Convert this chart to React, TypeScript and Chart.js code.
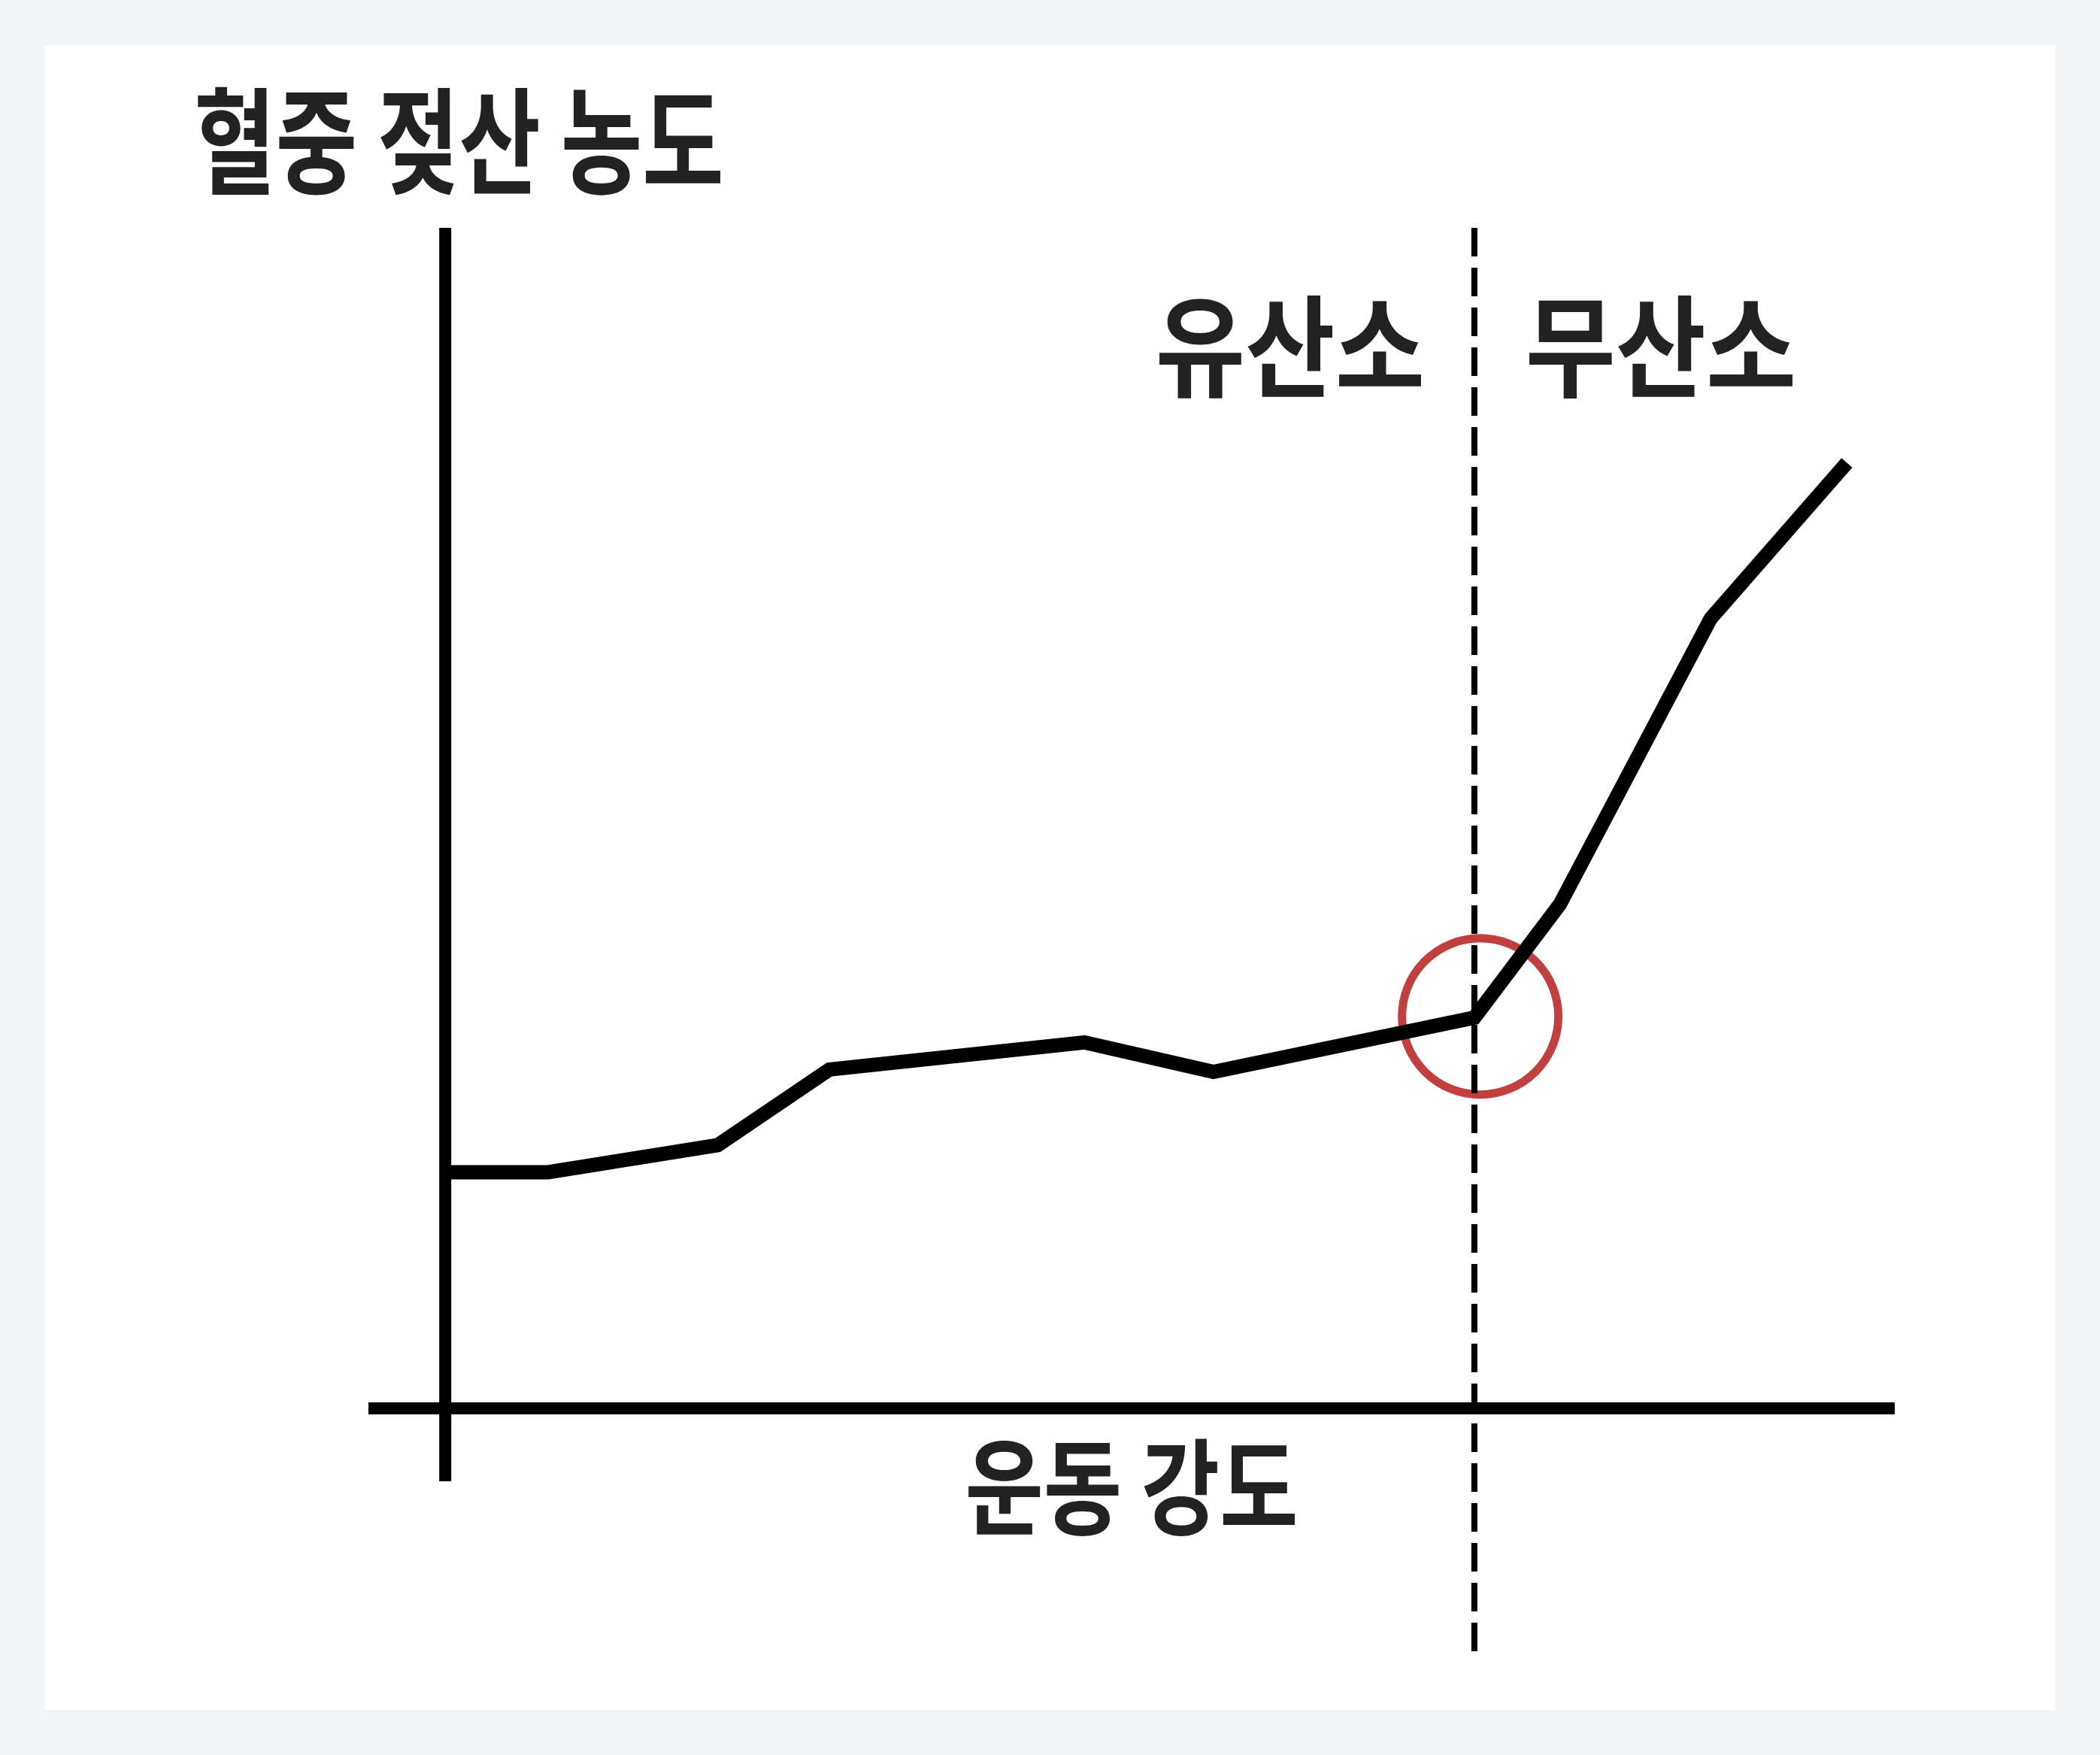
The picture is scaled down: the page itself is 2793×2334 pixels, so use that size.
import React, { useEffect, useRef } from "react";
import { Chart, registerables } from "chart.js";

Chart.register(...registerables);

// Exercise intensity (x) vs blood lactate concentration (y), arbitrary units
const intensity = [0, 7.1, 18.8, 26.5, 44.1, 53.0, 71, 76.9, 87.3, 96.7];
const lactate = [20, 20, 22.3, 28.7, 31.0, 28.5, 33.1, 42.7, 66.9, 80.1];

// Lactate threshold: where aerobic turns into anaerobic
const thresholdIntensity = 71;
const thresholdLactate = 33.2;
const thresholdMarkerX = 71.4;

const yAxisTitle = "혈중 젖산 농도";
const xAxisTitle = "운동 강도";
const zoneLabels = ["유산소", "무산소"];

const X_MIN = -5.3;
const X_MAX = 100;
const Y_MIN = -6.18;
const Y_MAX = 100;
const DASH_BOTTOM = -20.7;

const PANEL_W = 2673;
const PANEL_H = 2214;
const TEXT_COLOR = "#222222";
const FONT = 'bold 150px "Noto Sans CJK KR", "Noto Sans", sans-serif';

// Draw text stretched so that its ink fills the given box
function drawFitted(
  ctx: CanvasRenderingContext2D,
  text: string,
  x0: number,
  y0: number,
  w: number,
  h: number
) {
  ctx.save();
  ctx.font = FONT;
  ctx.textAlign = "left";
  ctx.textBaseline = "alphabetic";
  ctx.fillStyle = TEXT_COLOR;
  const m = ctx.measureText(text);
  const inkW = m.actualBoundingBoxLeft + m.actualBoundingBoxRight;
  const inkH = m.actualBoundingBoxAscent + m.actualBoundingBoxDescent;
  ctx.translate(x0, y0);
  ctx.scale(w / inkW, h / inkH);
  ctx.fillText(text, m.actualBoundingBoxLeft, m.actualBoundingBoxAscent);
  ctx.restore();
}

const axesPlugin = {
  id: "crossAxes",
  beforeDatasetsDraw(chart: any) {
    const { ctx, scales } = chart;
    const xs = scales.x;
    const ys = scales.y;
    ctx.save();
    ctx.strokeStyle = "#000000";
    ctx.lineWidth = 16;
    ctx.lineCap = "butt";
    // vertical axis
    ctx.beginPath();
    ctx.moveTo(xs.getPixelForValue(0), ys.getPixelForValue(Y_MAX));
    ctx.lineTo(xs.getPixelForValue(0), ys.getPixelForValue(Y_MIN));
    ctx.stroke();
    // horizontal axis
    ctx.beginPath();
    ctx.moveTo(xs.getPixelForValue(X_MIN), ys.getPixelForValue(0));
    ctx.lineTo(xs.getPixelForValue(X_MAX), ys.getPixelForValue(0));
    ctx.stroke();
    ctx.restore();
  },
  afterDraw(chart: any) {
    const { ctx, scales } = chart;
    const tx = scales.x.getPixelForValue(thresholdIntensity);
    drawFitted(ctx, yAxisTitle, 203, 55, 695, 145);
    drawFitted(ctx, zoneLabels[0], tx - 419, 333, 348, 137);
    drawFitted(ctx, zoneLabels[1], tx + 73, 333, 350, 137);
    drawFitted(ctx, xAxisTitle, 1228, 1853, 434, 130);
  },
};

export default function App() {
  const canvasRef = useRef<HTMLCanvasElement | null>(null);

  useEffect(() => {
    if (!canvasRef.current) return;
    const chart = new Chart(canvasRef.current, {
      type: "scatter",
      data: {
        datasets: [
          {
            label: "lactate",
            data: intensity.map((x, i) => ({ x, y: lactate[i] })),
            showLine: true,
            borderColor: "#000000",
            borderWidth: 19,
            borderJoinStyle: "miter",
            borderCapStyle: "butt",
            pointRadius: 0,
            tension: 0,
            clip: false,
          },
          {
            label: "threshold",
            data: [
              { x: thresholdIntensity, y: Y_MAX },
              { x: thresholdIntensity, y: DASH_BOTTOM },
            ],
            showLine: true,
            borderColor: "#000000",
            borderWidth: 8,
            borderDash: [38, 15],
            borderCapStyle: "butt",
            pointRadius: 0,
            clip: false,
          },
          {
            label: "marker",
            data: [{ x: thresholdMarkerX, y: thresholdLactate }],
            showLine: false,
            pointRadius: 104,
            pointBorderWidth: 11,
            pointBorderColor: "#c1403f",
            pointBackgroundColor: "rgba(0,0,0,0)",
            clip: false,
          },
        ],
      } as any,
      options: {
        animation: false,
        responsive: false,
        devicePixelRatio: 1,
        events: [],
        layout: {
          padding: { left: 430, right: PANEL_W - 2460, top: 243, bottom: PANEL_H - 1910 },
        },
        plugins: {
          legend: { display: false },
          tooltip: { enabled: false },
          title: { display: false },
        },
        scales: {
          x: { type: "linear", display: false, min: X_MIN, max: X_MAX },
          y: { type: "linear", display: false, min: Y_MIN, max: Y_MAX },
        },
      } as any,
      plugins: [axesPlugin],
    });
    return () => chart.destroy();
  }, []);

  return (
    <div
      style={{
        position: "fixed",
        left: 0,
        top: 0,
        width: 2793,
        height: 2334,
        background: "#f2f6f9",
      }}
    >
      <div
        style={{
          position: "absolute",
          left: 60,
          top: 60,
          width: PANEL_W,
          height: PANEL_H,
          background: "#ffffff",
        }}
      >
        <canvas
          ref={canvasRef}
          width={PANEL_W}
          height={PANEL_H}
          style={{ display: "block", width: PANEL_W, height: PANEL_H }}
        />
      </div>
    </div>
  );
}
